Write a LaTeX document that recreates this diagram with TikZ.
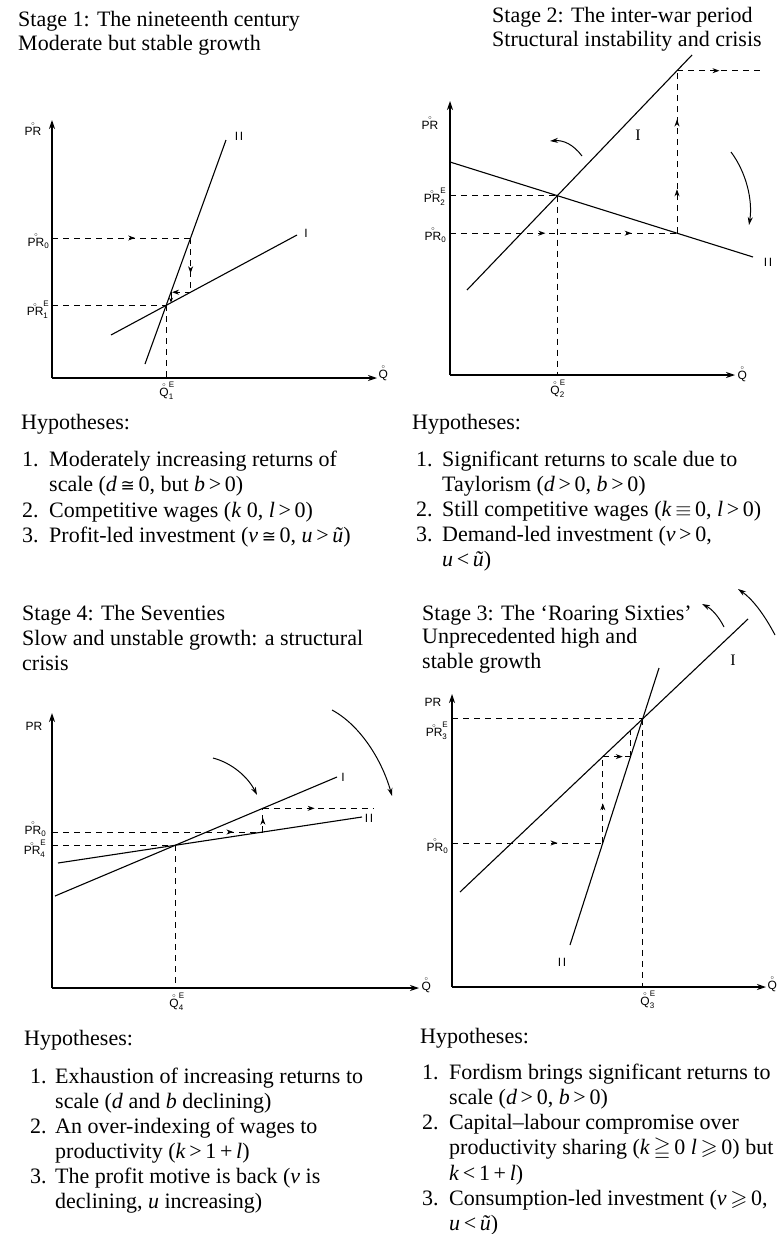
\documentclass[tikz,border=0pt]{standalone}
\usepackage{amsmath,amssymb}
\usepackage{fontspec}
\setmainfont{Liberation Serif}
\setsansfont{Liberation Sans}
\newfontfamily\symbfont{DejaVu Sans}
\usetikzlibrary{arrows.meta,decorations.markings}
\newcommand{\ringover}[1]{\leavevmode\setbox0=\hbox{#1}\rlap{\hbox to\wd0{\hss\raisebox{\dimexpr\ht0+1.2pt\relax}{\fontsize{6}{6}\selectfont$\circ$}\hss}}\box0}
\newcommand{\mycongsym}{{\symbfont\fontsize{17}{17}\selectfont ≅}}
\tikzset{
  axisline/.style={line width=1.1pt,-{Stealth[length=9pt,width=6pt]}},
  curveline/.style={line width=1.1pt},
  dsh/.style={line width=0.9pt,dash pattern=on 6pt off 5pt},
  arr/.style={postaction={decorate},decoration={markings,mark=at position #1 with {\arrow{Stealth[length=7pt,width=5pt]}}}},
  arrtwo/.style 2 args={postaction={decorate},decoration={markings,mark=at position #1 with {\arrow{Stealth[length=7pt,width=5pt]}},mark=at position #2 with {\arrow{Stealth[length=7pt,width=5pt]}}}},
  bendarrow/.style={line width=1pt,-{Stealth[length=8pt,width=5pt]}},
  ttl/.style={anchor=base west,inner sep=0pt,font=\fontsize{22}{24}\selectfont},
  lbl/.style={inner sep=0.5pt,font=\sffamily\fontsize{12}{12}\selectfont},
  lnoserif/.style={inner sep=0pt,font=\fontsize{16}{16}\selectfont},
  lnosans/.style={inner sep=0pt,font=\sffamily\fontsize{12}{12}\selectfont},
}
\begin{document}
\begin{tikzpicture}[x=1pt,y=-1pt]
\fill[white] (0,0) rectangle (780,1234);
\useasboundingbox (0,0) rectangle (780,1234);

% ================= Panel 1 =================
\node[ttl] (s1a) at (18,27) {Stage 1: The nineteenth century};
\node[ttl] (s1b) at (18,50) {Moderate but stable growth};
\coordinate (o1) at (52,378); \coordinate (y1) at (52,120); \coordinate (x1) at (377,378);
\draw[axisline] (o1) -- (y1);
\draw[axisline] (o1) -- (x1);
\coordinate (a1) at (145,364); \coordinate (b1) at (226,140);
\coordinate (c1) at (111,335); \coordinate (d1) at (297,235);
\draw[curveline] (a1) -- (b1);
\draw[curveline] (c1) -- (d1);
\coordinate (e1) at (intersection of a1--b1 and c1--d1);
\draw[dsh] (o1 |- e1) -- (e1);
\draw[dsh] (e1) -- (e1 |- o1);
\coordinate (p01) at (52,238); \coordinate (h11) at (190.6,238);
\coordinate (v11) at (190.6,292.2); \coordinate (h21) at (171,292.2); \coordinate (v21) at (171,302.7);
\draw[dsh,arr=0.6] (p01) -- (h11);
\draw[dsh,arr=0.65] (h11) -- (v11);
\draw[dsh,arr=0.95] (v11) -- (h21);
\draw[line width=0.9pt,-{Stealth[length=5pt,width=4pt]}] (h21) -- (v21);
\node[lbl] (l1pr) at (33,129) {\ringover{PR}};
\node[lbl,anchor=east] (l1p0) at (50,241) {$\text{\ringover{PR}}_{\text{0}}$};
\node[lbl,anchor=east] (l1pe) at (50,310) {$\text{\ringover{PR}}^{\text{E}}_{\text{1}}$};
\node[lbl,anchor=north] (l1qe) at (167,381) {$\text{\ringover{Q}}^{\text{E}}_{\text{1}}$};
\node[lbl,anchor=west] (l1q) at (378,373) {\ringover{Q}};
\node[lnosans] (l1ii) at (239,136) {I\hspace{1.5pt}I};
\node[lnosans] (l1i) at (306,233) {I};

\node[ttl] (h1) at (21,429) {Hypotheses:};
\node[ttl] (h1n1) at (22,466) {1.};
\node[ttl] (h1t1) at (49,466) {Moderately increasing returns of};
\node[ttl] (h1t1b) at (49,491) {scale (\textit{d}\,\mycongsym\,0, but \textit{b}\,>\,0)};
\node[ttl] (h1n2) at (22,517) {2.};
\node[ttl] (h1t2) at (49,517) {Competitive wages (\textit{k} 0, \textit{l}\,>\,0)};
\node[ttl] (h1n3) at (22,542) {3.};
\node[ttl] (h1t3) at (49,542) {Profit-led investment (\textit{v}\,\mycongsym\,0, \textit{u}\,>\,\textit{ũ})};

% ================= Panel 2 =================
\node[ttl] (s2a) at (492,23) {Stage 2: The inter-war period};
\node[ttl] (s2b) at (492,46) {Structural instability and crisis};
\coordinate (o2) at (450,375); \coordinate (y2) at (450,101); \coordinate (x2) at (735,375);
\draw[axisline] (o2) -- (y2);
\draw[axisline] (o2) -- (x2);
\coordinate (f2) at (450,162); \coordinate (g2) at (753,257);
\coordinate (h2) at (467,290); \coordinate (j2) at (692,55);
\draw[curveline] (f2) -- (g2);
\draw[curveline] (h2) -- (j2);
\coordinate (e2) at (intersection of f2--g2 and h2--j2);
\draw[dsh] (o2 |- e2) -- (e2);
\draw[dsh] (e2) -- (e2 |- o2);
\coordinate (p02) at (450,233.2); \coordinate (c02) at (677,233.2);
\coordinate (t2) at (677,70.7); \coordinate (r2) at (762,70.7);
\draw[dsh,arrtwo={0.42}{0.8}] (p02) -- (c02);
\draw[dsh,arrtwo={0.27}{0.7}] (c02) -- (t2);
\draw[dsh,arr=0.5] (t2) -- (r2);
\node[lbl] (l2pr) at (430,123) {\ringover{PR}};
\node[lbl,anchor=east] (l2pe) at (447,197) {$\text{\ringover{PR}}^{\text{E}}_{\text{2}}$};
\node[lbl,anchor=east] (l2p0) at (447,235) {$\text{\ringover{PR}}_{\text{0}}$};
\node[lbl,anchor=north] (l2qe) at (558,379) {$\text{\ringover{Q}}^{\text{E}}_{\text{2}}$};
\node[lbl,anchor=west] (l2q) at (737,374) {\ringover{Q}};
\node[lnoserif] (l2i) at (638,135) {I};
\node[lnosans] (l2ii) at (768,262) {I\hspace{1.5pt}I};
\coordinate (ca2s) at (582,156); \coordinate (ca2e) at (550,141);
\draw[bendarrow] (ca2s) .. controls (573,144) and (563,140) .. (ca2e);
\coordinate (cb2s) at (731,152); \coordinate (cb2e) at (749,225);
\draw[bendarrow] (cb2s) .. controls (746,172) and (753,200) .. (cb2e);

\node[ttl] (h2) at (412,429) {Hypotheses:};
\node[ttl] (h2n1) at (416,466) {1.};
\node[ttl] (h2t1) at (442,466) {Significant returns to scale due to};
\node[ttl] (h2t1b) at (442,491) {Taylorism (\textit{d}\,>\,0, \textit{b}\,>\,0)};
\node[ttl] (h2n2) at (416,516) {2.};
\node[ttl] (h2t2) at (442,516) {Still competitive wages (\textit{k}\,$\equiv$\,0, \textit{l}\,>\,0)};
\node[ttl] (h2n3) at (416,541) {3.};
\node[ttl] (h2t3) at (442,541) {Demand-led investment (\textit{v}\,>\,0,};
\node[ttl] (h2t3b) at (442,566) {\textit{u}\,<\,\textit{ũ})};

% ================= Panel 4 (lower left) =================
\node[ttl] (s4a) at (22,620) {Stage 4: The Seventies};
\node[ttl] (s4b) at (22,645) {Slow and unstable growth: a structural};
\node[ttl] (s4c) at (22,670) {crisis};
\coordinate (o4) at (52,988); \coordinate (y4) at (52,713); \coordinate (x4) at (419,988);
\draw[axisline] (o4) -- (y4);
\draw[axisline] (o4) -- (x4);
\coordinate (p4) at (55,896); \coordinate (r4) at (337,777);
\coordinate (s4) at (58,863); \coordinate (t4) at (362,817);
\draw[curveline] (p4) -- (r4);
\draw[curveline] (s4) -- (t4);
\coordinate (e4) at (intersection of p4--r4 and s4--t4);
\draw[dsh] (o4 |- e4) -- (e4);
\draw[dsh] (e4) -- (e4 |- o4);
\coordinate (p04) at (52,832); \coordinate (c04) at (262.9,832);
\coordinate (u4) at (262.9,808.3); \coordinate (w4) at (373,808.3);
\draw[dsh,arr=0.86] (p04) -- (c04);
\draw[dsh,arr=0.6] (c04) -- (u4);
\draw[dsh,arr=0.47] (u4) -- (w4);
\node[lbl] (l4pr) at (34,726) {PR};
\node[lbl,anchor=east] (l4p0) at (47,829) {$\text{\ringover{PR}}_{\text{0}}$};
\node[lbl,anchor=east] (l4pe) at (47,849) {$\text{\ringover{PR}}^{\text{E}}_{\text{4}}$};
\node[lbl,anchor=north] (l4qe) at (177,992) {$\text{\ringover{Q}}^{\text{E}}_{\text{4}}$};
\node[lbl,anchor=west] (l4q) at (421,985) {\ringover{Q}};
\node[lnosans] (l4i) at (343,777) {I};
\node[lnosans] (l4ii) at (369,818) {I\hspace{1.5pt}I};
\coordinate (ca4s) at (213,758); \coordinate (ca4e) at (257,795);
\draw[bendarrow] (ca4s) .. controls (232,763) and (248,777) .. (ca4e);
\coordinate (cb4s) at (332,710); \coordinate (cb4e) at (392,796);
\draw[bendarrow] (cb4s) .. controls (360,725) and (382,760) .. (cb4e);

\node[ttl] (h4) at (24,1045) {Hypotheses:};
\node[ttl] (h4n1) at (30,1083) {1.};
\node[ttl] (h4t1) at (55,1083) {Exhaustion of increasing returns to};
\node[ttl] (h4t1b) at (55,1108) {scale (\textit{d} and \textit{b} declining)};
\node[ttl] (h4n2) at (30,1133) {2.};
\node[ttl] (h4t2) at (55,1133) {An over-indexing of wages to};
\node[ttl] (h4t2b) at (55,1158) {productivity (\textit{k}\,>\,1\,+\,\textit{l})};
\node[ttl] (h4n3) at (30,1183) {3.};
\node[ttl] (h4t3) at (55,1183) {The profit motive is back (\textit{v} is};
\node[ttl] (h4t3b) at (55,1208) {declining, \textit{u} increasing)};

% ================= Panel 3 (lower right) =================
\node[ttl] (s3a) at (422,620) {Stage 3: The ‘Roaring Sixties’};
\node[ttl] (s3b) at (422,643) {Unprecedented high and};
\node[ttl] (s3c) at (422,668) {stable growth};
\coordinate (o3) at (452,987); \coordinate (y3) at (452,694); \coordinate (x3) at (766,987);
\draw[axisline] (o3) -- (y3);
\draw[axisline] (o3) -- (x3);
\coordinate (k3) at (460,892); \coordinate (l3) at (748,619);
\coordinate (m3) at (570,945); \coordinate (n3) at (659,668);
\draw[curveline] (k3) -- (l3);
\draw[curveline] (m3) -- (n3);
\coordinate (e3) at (intersection of k3--l3 and m3--n3);
\draw[dsh] (o3 |- e3) -- (e3);
\draw[dsh] (e3) -- (e3 |- o3);
\coordinate (p03) at (452,843); \coordinate (c03) at (602.8,843);
\coordinate (u3) at (602.8,756.6); \coordinate (w3) at (630.5,756.6); \coordinate (z3) at (630.5,730.4);
\draw[dsh,arr=0.7] (p03) -- (c03);
\draw[dsh,arr=0.46] (c03) -- (u3);
\draw[dsh,arr=0.72] (u3) -- (w3);
\draw[dsh] (w3) -- (z3);
\node[lbl] (l3pr) at (433,702) {PR};
\node[lbl,anchor=east] (l3pe) at (449,731) {$\text{\ringover{PR}}^{\text{E}}_{\text{3}}$};
\node[lbl,anchor=east] (l3p0) at (449,846) {$\text{\ringover{PR}}_{\text{0}}$};
\node[lbl,anchor=north] (l3qe) at (648,990) {$\text{\ringover{Q}}^{\text{E}}_{\text{3}}$};
\node[lbl,anchor=west] (l3q) at (767,984) {\ringover{Q}};
\node[lnoserif] (l3i) at (733,660) {I};
\node[lnosans] (l3ii) at (562,962) {I\hspace{1.5pt}I};
\coordinate (ca3s) at (724,627); \coordinate (ca3e) at (702,604);
\draw[bendarrow] (ca3s) .. controls (719,617) and (712,609) .. (ca3e);
\coordinate (cb3s) at (775,635); \coordinate (cb3e) at (738,589);
\draw[bendarrow] (cb3s) .. controls (763,612) and (751,598) .. (cb3e);

\node[ttl] (h3) at (420,1043) {Hypotheses:};
\node[ttl] (h3n1) at (422,1079) {1.};
\node[ttl] (h3t1) at (449,1079) {Fordism brings significant returns to};
\node[ttl] (h3t1b) at (449,1104.3) {scale (\textit{d}\,>\,0, \textit{b}\,>\,0)};
\node[ttl] (h3n2) at (422,1129.6) {2.};
\node[ttl] (h3t2) at (449,1129.6) {Capital–labour compromise over};
\node[ttl] (h3t2b) at (449,1154.9) {productivity sharing (\textit{k}\,$\geqq$\,0 \textit{l}\,$\geqslant$\,0) but};
\node[ttl] (h3t2c) at (449,1180.2) {\textit{k}\,<\,1\,+\,\textit{l})};
\node[ttl] (h3n3) at (422,1205.5) {3.};
\node[ttl] (h3t3) at (449,1205.5) {Consumption-led investment (\textit{v}\,$\geqslant$\,0,};
\node[ttl] (h3t3b) at (449,1230.8) {\textit{u}\,<\,\textit{ũ})};
\end{tikzpicture}
\end{document}
